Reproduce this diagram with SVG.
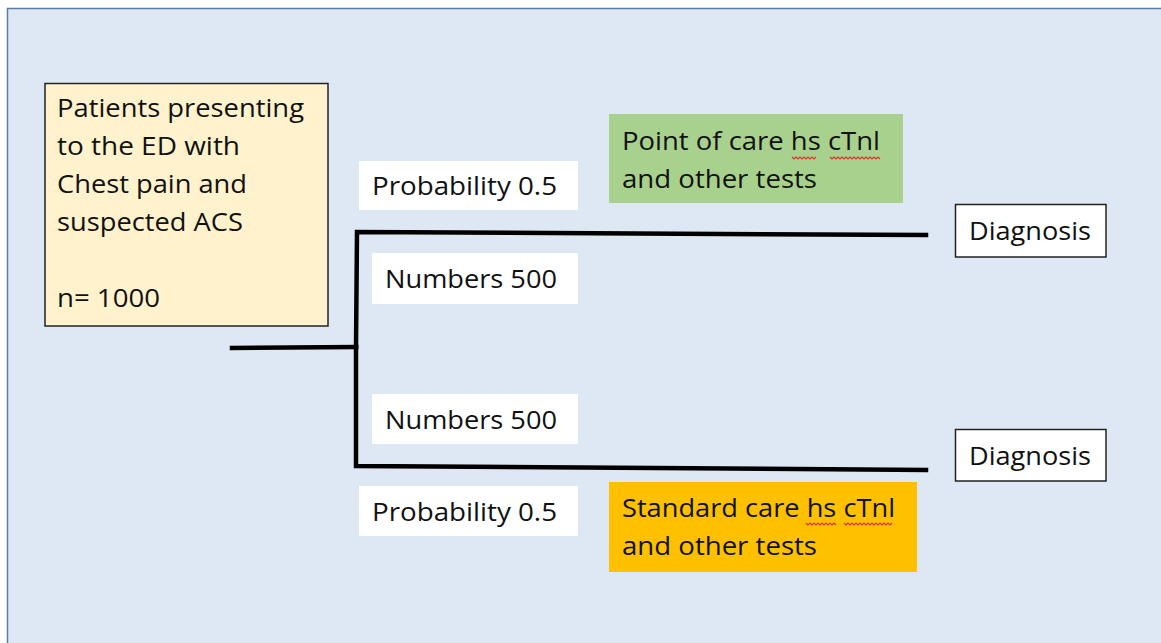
<svg xmlns="http://www.w3.org/2000/svg" width="1161" height="643" viewBox="0 0 1161 643">
  <style>
    .lbl { font-family: "Open Sans", "Noto Sans", "Liberation Sans", sans-serif; font-size: 25px; fill: #111111; }
    .tag { fill: #ffffff; stroke: none; }
    .edge { fill: none; stroke: #000000; stroke-width: 4.5; stroke-linecap: square; }
    .spell { fill: none; stroke: #e03030; stroke-width: 1.2; }
  </style>
  <rect width="1161" height="643" fill="#ffffff"/>
  <!-- background panel -->
  <rect x="7.5" y="8.5" width="1160" height="640" fill="#dee8f4" stroke="#5a7ca6" stroke-width="1.5"/>

  <!-- decision tree connectors -->
  <g id="connectors">
    <path class="edge" d="M232 348 L356 347"/>
    <path class="edge" d="M356 347 L357 232 L926 235"/>
    <path class="edge" d="M356 347 L356 466 L926 470"/>
  </g>

  <g id="start">
    <rect x="45" y="83.5" width="283" height="242.5" fill="#fff2cc" stroke="#222222" stroke-width="1.5"/>
    <text class="lbl" x="57" y="117" textLength="247" lengthAdjust="spacingAndGlyphs">Patients presenting</text>
    <text class="lbl" x="57" y="155" textLength="183" lengthAdjust="spacingAndGlyphs">to the ED with</text>
    <text class="lbl" x="57" y="193" textLength="190" lengthAdjust="spacingAndGlyphs">Chest pain and</text>
    <text class="lbl" x="57" y="231" textLength="186" lengthAdjust="spacingAndGlyphs">suspected ACS</text>
    <text class="lbl" x="57" y="307" textLength="103" lengthAdjust="spacingAndGlyphs">n= 1000</text>
  </g>

  <g id="prob-top">
    <rect class="tag" x="359" y="161" width="219" height="49"/>
    <text class="lbl" x="372" y="195" textLength="185" lengthAdjust="spacingAndGlyphs">Probability 0.5</text>
  </g>

  <g id="num-top">
    <rect class="tag" x="372" y="253" width="206" height="51"/>
    <text class="lbl" x="385" y="288" textLength="172" lengthAdjust="spacingAndGlyphs">Numbers 500</text>
  </g>

  <g id="poc">
    <rect x="609" y="114" width="294" height="89" fill="#a9d18e"/>
    <text class="lbl" x="622" y="150" textLength="258" lengthAdjust="spacingAndGlyphs">Point of care hs cTnl</text>
    <text class="lbl" x="622" y="188" textLength="195" lengthAdjust="spacingAndGlyphs">and other tests</text>
    <path class="spell" d="M792 157 l2 2 l2 -2 l2 2 l2 -2 l2 2 l2 -2 l2 2 l2 -2 l2 2 l2 -2 l2 2 l2 -2"/>
    <path class="spell" d="M830 157 l2 2 l2 -2 l2 2 l2 -2 l2 2 l2 -2 l2 2 l2 -2 l2 2 l2 -2 l2 2 l2 -2 l2 2 l2 -2 l2 2 l2 -2 l2 2 l2 -2 l2 2 l2 -2 l2 2 l2 -2 l2 2 l2 -2 l2 2"/>
  </g>

  <g id="num-bottom">
    <rect class="tag" x="372" y="394" width="206" height="50"/>
    <text class="lbl" x="385" y="429" textLength="172" lengthAdjust="spacingAndGlyphs">Numbers 500</text>
  </g>

  <g id="prob-bottom">
    <rect class="tag" x="359" y="486" width="219" height="50"/>
    <text class="lbl" x="372" y="521" textLength="185" lengthAdjust="spacingAndGlyphs">Probability 0.5</text>
  </g>

  <g id="standard">
    <rect x="609" y="482" width="308" height="90" fill="#ffc000"/>
    <text class="lbl" x="622" y="517" textLength="273" lengthAdjust="spacingAndGlyphs">Standard care hs cTnl</text>
    <text class="lbl" x="622" y="555" textLength="195" lengthAdjust="spacingAndGlyphs">and other tests</text>
    <path class="spell" d="M806 523 l2 2 l2 -2 l2 2 l2 -2 l2 2 l2 -2 l2 2 l2 -2 l2 2 l2 -2 l2 2 l2 -2 l2 2 l2 -2 l2 2"/>
    <path class="spell" d="M844 523 l2 2 l2 -2 l2 2 l2 -2 l2 2 l2 -2 l2 2 l2 -2 l2 2 l2 -2 l2 2 l2 -2 l2 2 l2 -2 l2 2 l2 -2 l2 2 l2 -2 l2 2 l2 -2 l2 2 l2 -2 l2 2 l2 -2"/>
  </g>

  <g id="diagnosis-top">
    <rect x="955.5" y="204.5" width="150.5" height="52.5" fill="#ffffff" stroke="#222222" stroke-width="1.5"/>
    <text class="lbl" x="969" y="240" textLength="122" lengthAdjust="spacingAndGlyphs">Diagnosis</text>
  </g>

  <g id="diagnosis-bottom">
    <rect x="955.5" y="429.5" width="150.5" height="51.5" fill="#ffffff" stroke="#222222" stroke-width="1.5"/>
    <text class="lbl" x="969" y="465" textLength="122" lengthAdjust="spacingAndGlyphs">Diagnosis</text>
  </g>
</svg>
